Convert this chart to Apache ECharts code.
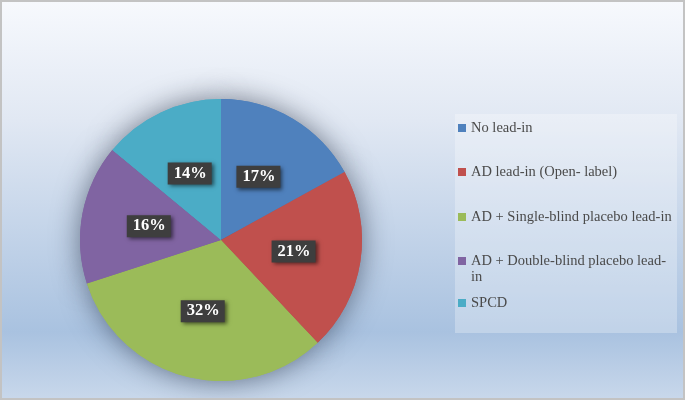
<!DOCTYPE html>
<html>
<head>
<meta charset="utf-8">
<script src="https://cdn.jsdelivr.net/npm/echarts@6/dist/echarts.min.js"></script>
<style>
html,body{margin:0;padding:0;}
#chart{width:685px;height:400px;}
</style>
</head>
<body>
<div id="chart"></div>
<script>
const categories = [
  'No lead-in',
  'AD lead-in (Open- label)',
  'AD + Single-blind placebo lead-in',
  'AD + Double-blind placebo lead-in',
  'SPCD'
];
const values = [17, 21, 32, 16, 14];
const colors = ['#4F81BD', '#C0504D', '#9BBB59', '#8064A2', '#4BACC6'];
const legendCenters = [128, 172, 217, 261, 303];

const data = categories.map((c, i) => ({ name: c, value: values[i], itemStyle: { color: colors[i] } }));
const shadowData = categories.map((c, i) => ({
  name: c, value: values[i],
  itemStyle: { color: colors[i], shadowBlur: 28, shadowColor: 'rgba(20,30,50,0.55)', shadowOffsetX: 0, shadowOffsetY: 0 }
}));

const legendFont = { fontFamily: 'Liberation Serif', fontSize: 14.5, color: '#4a4a4a', lineHeight: 16 };

const legends = categories.map((c, i) => {
  const isWrap = c === 'AD + Double-blind placebo lead-in';
  return {
    data: [c],
    orient: 'vertical',
    left: 458,
    top: legendCenters[i] - (isWrap ? 24 : 8),
    padding: 0,
    itemWidth: 8,
    itemHeight: 8,
    icon: 'rect',
    selectedMode: false,
    formatter: isWrap ? function (n) { return '{e|}\n{t|AD + Double-blind placebo lead-}\n{t|in}'; } : '{name}',
    textStyle: Object.assign({}, legendFont, isWrap ? {
      rich: {
        e: { fontFamily: 'Liberation Serif', fontSize: 14.5, lineHeight: 16 },
        t: { fontFamily: 'Liberation Serif', fontSize: 14.5, color: '#4a4a4a', lineHeight: 16 }
      }
    } : {})
  };
});

const chart = echarts.init(document.getElementById('chart'), null, { renderer: 'canvas' });
chart.setOption({
  animation: false,
  backgroundColor: {
    type: 'linear', x: 0, y: 0, x2: 0, y2: 1,
    colorStops: [
      { offset: 0, color: '#f7f9fd' },
      { offset: 0.3, color: '#e1e8f3' },
      { offset: 0.83, color: '#a9c2e0' },
      { offset: 1, color: '#c9d8eb' }
    ]
  },
  graphic: [
    { type: 'rect', silent: true, z: -1, shape: { x: 455, y: 114, width: 222, height: 219 },
      style: { fill: 'rgba(255,255,255,0.28)' } },
    { type: 'rect', silent: true, z: 100, shape: { x: 1, y: 1, width: 683, height: 398 },
      style: { fill: 'none', stroke: '#c3c3c3', lineWidth: 2 } }
  ],
  legend: legends,
  series: [
    {
      type: 'pie',
      silent: true,
      center: [221, 240],
      radius: 141,
      startAngle: 90,
      clockwise: true,
      z: 1,
      label: { show: false },
      labelLine: { show: false },
      emphasis: { disabled: true },
      data: shadowData
    },
    {
      type: 'pie',
      center: [221, 240],
      radius: 141,
      startAngle: 90,
      clockwise: true,
      z: 2,
      itemStyle: { borderWidth: 0 },
      label: {
        show: true,
        position: 'inside',
        formatter: function (p) { return p.value + '%'; },
        fontFamily: 'Liberation Serif',
        fontWeight: 'bold',
        fontSize: 16.5,
        color: '#ffffff',
        lineHeight: 18,
        backgroundColor: '#3e3e3e',
        padding: [2, 5, 2, 6],
        shadowBlur: 4,
        shadowOffsetX: 2,
        shadowOffsetY: 2,
        shadowColor: 'rgba(0,0,0,0.55)'
      },
      labelLine: { show: false },
      emphasis: { disabled: true },
      data: data
    }
  ]
});
</script>
</body>
</html>
